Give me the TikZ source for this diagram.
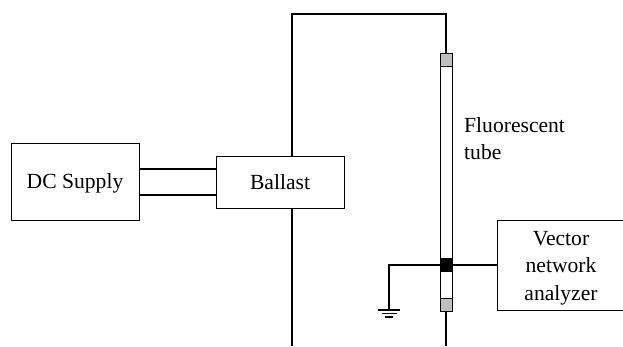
\documentclass[tikz,border=0pt]{standalone}
\usepackage{fontspec}
\setmainfont{Liberation Serif}
\usepackage{tikz}

\tikzset{
	box/.style={draw,line width=1pt,inner sep=0pt,align=center,text depth=0pt,font=\fontsize{21.6}{27.5}\selectfont},
	wire/.style={line width=2pt},
	tubecap/.style={draw,line width=1pt,fill=black!25,minimum width=12pt,minimum height=13pt,inner sep=0pt},
	gnd/.style={line width=1.4pt}
}

\begin{document}
\begin{tikzpicture}[x=1pt,y=-1pt]
	\useasboundingbox (0,0) rectangle (623,346);
	\node[box,minimum width=128pt,minimum height=77pt] (supply) at (75,181.5) {DC Supply};
	\node[box,minimum width=128pt,minimum height=52pt] (ballast) at (280,182) {Ballast};
	\node[box,minimum width=128pt,minimum height=90pt] (analyzer) at (561,265.5) {Vector\\network\\analyzer};
	\node[tubecap] (captop) at (446,59.5) {};
	\node[tubecap] (capbottom) at (446,304.5) {};
	\node[draw,line width=1pt,fill=white,minimum width=12pt,minimum height=232pt,inner sep=0pt] (tube) at (446,182) {};
	\node[fill=black,minimum width=12pt,minimum height=14pt,inner sep=0pt] (clamp) at (446,265) {};
	\node[align=left,anchor=north west,inner sep=0pt,font=\fontsize{21.6}{27.5}\selectfont] (label) at (464,117) {Fluorescent\\tube};
	\coordinate (topleft) at (292,14);
	\coordinate (topright) at (446,14);
	\coordinate (bottomleft) at (292,346);
	\coordinate (bottomright) at (446,346);
	\coordinate (groundtop) at (389,265);
	\coordinate (ground) at (389,310);
	\draw[wire] ([yshift=-13pt]supply.east) -- ([yshift=-13pt]supply.east -| ballast.west);
	\draw[wire] ([yshift=13pt]supply.east) -- ([yshift=13pt]supply.east -| ballast.west);
	\draw[wire] (ballast.north -| topleft) -- (topleft) -- (topright) -- (captop.north);
	\draw[wire] (ballast.south -| topleft) -- (bottomleft);
	\draw[wire] (capbottom.south) -- (bottomright);
	\draw[wire] (clamp.west) -- (groundtop) -- (ground);
	\draw[wire] (clamp.east) -- (clamp.east -| analyzer.west);
	\draw[gnd] ([xshift=-11pt]ground) -- ([xshift=11pt]ground);
	\draw[gnd] ([xshift=-7.5pt,yshift=-3.5pt]ground) -- ([xshift=7.5pt,yshift=-3.5pt]ground);
	\draw[gnd] ([xshift=-4pt,yshift=-7pt]ground) -- ([xshift=4pt,yshift=-7pt]ground);
\end{tikzpicture}
\end{document}
